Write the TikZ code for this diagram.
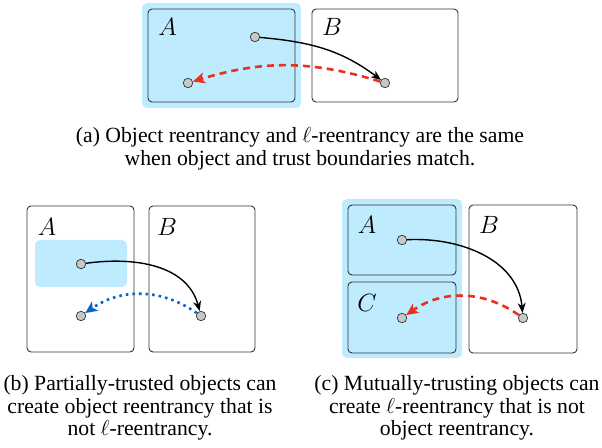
\RequirePackage{fix-cm}
\documentclass[tikz,border=0pt]{standalone}
\usepackage{fontspec}
\setmainfont{Liberation Serif}
\usetikzlibrary{arrows.meta}
\definecolor{hl}{HTML}{BEEBFD}
\definecolor{rdash}{HTML}{E8321E}
\definecolor{bdot}{HTML}{0A64C8}
\definecolor{dotfill}{HTML}{C8C8C8}
\definecolor{boxline}{HTML}{333333}
\tikzset{
  objbox/.style={draw=boxline, line width=0.9pt, rounded corners=4pt},
  trust/.style={fill=hl, rounded corners=5pt},
  pt/.style={circle, draw=black!80, line width=0.7pt, fill=dotfill, minimum size=9.5pt, inner sep=0pt},
  lbl/.style={font=\fontsize{25}{28}\selectfont, inner sep=0pt},
  call/.style={line width=1.4pt, -{Stealth[length=10pt,width=8pt]}},
  lret/.style={draw=rdash, line width=2.6pt, dash pattern=on 7pt off 5pt, -{Stealth[length=12pt,width=11pt,inset=3pt]}},
  oret/.style={draw=bdot, line width=2.6pt, dash pattern=on 2.6pt off 4pt, -{Stealth[length=12pt,width=11pt,inset=3pt]}},
  capt/.style={font=\fontsize{21.7}{22.5}\selectfont, align=center, inner sep=0pt, anchor=north}
}
\begin{document}
\begin{tikzpicture}[x=1pt,y=1pt]
\useasboundingbox (0,0) rectangle (602,447);
% ---------- (a) ----------
\fill[trust] (142,339) rectangle (301,444);
\draw[objbox] (148,345) rectangle (295,438);
\draw[objbox] (312,345) rectangle (458,438);
\node[lbl] (aA) at (167.5,420) {$A$};
\node[lbl] (aB) at (332,420) {$B$};
\node[pt] (a1) at (255,410) {};
\node[pt] (a2) at (188,364) {};
\node[pt] (a3) at (385,364) {};
\draw[call] (a1) to[out=-5,in=143] (a3);
\draw[lret] (a3) to[bend right=17] (a2);
\node[capt] (capa) at (300,319.7) {(a) Object reentrancy and $\ell$-reentrancy are the same\\when object and trust boundaries match.};
% ---------- (b) ----------
\draw[objbox] (27,95) rectangle (134,241);
\draw[objbox] (149,95) rectangle (255,241);
\fill[trust] (35,160) rectangle (127,207);
\node[lbl] (bA) at (47,220) {$A$};
\node[lbl] (bB) at (167,220) {$B$};
\node[pt] (b1) at (81,183) {};
\node[pt] (b2) at (81,131) {};
\node[pt] (b3) at (201,131) {};
\draw[call] (b1) to[out=8,in=105] (b3);
\draw[oret] (b3) to[bend right=35] (b2);
\node[capt] (capb) at (140,71.7) {(b) Partially-trusted objects can\\create object reentrancy that is\\not $\ell$-reentrancy.};
% ---------- (c) ----------
\fill[trust] (342,89) rectangle (462,248);
\draw[objbox] (348,172) rectangle (456,242);
\draw[objbox] (348,94) rectangle (456,165);
\draw[objbox] (469,94) rectangle (577,242);
\node[lbl] (cA) at (367,222) {$A$};
\node[lbl] (cB) at (489,222) {$B$};
\node[lbl] (cC) at (367,144) {$C$};
\node[pt] (c1) at (402,207) {};
\node[pt] (c2) at (402,129) {};
\node[pt] (c3) at (523,129) {};
\draw[call] (c1) to[out=3,in=95] (c3);
\draw[lret] (c3) to[bend right=35] (c2);
\node[capt] (capc) at (457,71.7) {(c) Mutually-trusting objects can\\create $\ell$-reentrancy that is not\\object reentrancy.};
\end{tikzpicture}
\end{document}
